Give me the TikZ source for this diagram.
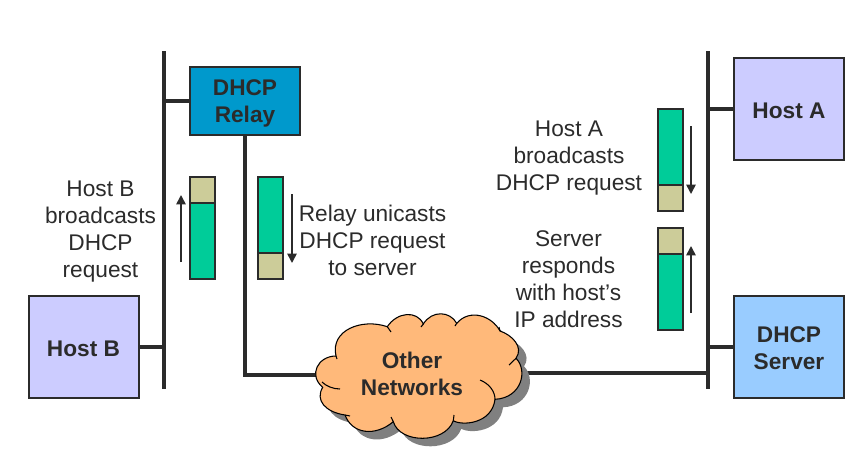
\documentclass[tikz,border=0pt]{standalone}
\usepackage{fontspec}
\setmainfont{Liberation Sans}
\usepackage{xcolor}
\usetikzlibrary{arrows.meta,backgrounds}
\definecolor{inkdark}{HTML}{2B2B2B}
\definecolor{hostfill}{HTML}{CCCCFF}
\definecolor{relayfill}{HTML}{0099CC}
\definecolor{serverfill}{HTML}{99CCFF}
\definecolor{bodyfill}{HTML}{00CC99}
\definecolor{headfill}{HTML}{CCCC99}
\definecolor{cloudfill}{HTML}{FFB97A}
\definecolor{shadowfill}{HTML}{808080}
\newcommand{\cloudoutline}{(336,356) .. controls (330,330) and (362,318) .. (387.3,326.7)
  .. controls (397,312) and (417,310) .. (423.3,324)
  .. controls (432,310) and (450,311) .. (456.7,323.3)
  .. controls (470,308) and (492,316) .. (500,331)
  .. controls (512,335) and (524,347) .. (516,358.3)
  .. controls (528,370) and (522,398) .. (495,399.3)
  .. controls (492,424) and (462,426) .. (453.3,420.7)
  .. controls (445,444) and (400,444) .. (393.3,421.7)
  .. controls (375,437) and (352,434) .. (345,415)
  .. controls (325,412) and (315,400) .. (322.7,387.3)
  .. controls (308,375) and (318,356) .. (336,356) -- cycle}
\tikzset{
  netline/.style={line width=3pt,inkdark},
  linkline/.style={line width=3pt,inkdark},
  cloudline/.style={line width=0.8pt,draw=black},
  boxnode/.style={draw=inkdark,line width=1.5pt,outer sep=0pt,inner sep=0pt,align=center,
    text=inkdark,font=\fontsize{17}{20.25}\selectfont\bfseries},
  hostbox/.style={boxnode,fill=hostfill,minimum width=82.5pt,minimum height=76.5pt},
  serverbox/.style={boxnode,fill=serverfill,minimum width=82.5pt,minimum height=76.5pt},
  relaybox/.style={boxnode,fill=relayfill,minimum width=82.5pt,minimum height=51pt},
  pkthead/.style={draw=inkdark,line width=1.5pt,outer sep=0pt,fill=headfill,minimum width=18.75pt,minimum height=19.5pt},
  pktbody/.style={draw=inkdark,line width=1.5pt,outer sep=0pt,fill=bodyfill,minimum width=18.75pt,minimum height=57pt},
  pktarrow/.style={line width=1.2pt,inkdark,-{Triangle[width=7pt,length=7pt]}},
  caption/.style={align=center,text=inkdark,inner sep=0pt,font=\fontsize{17}{20.25}\selectfont},
  cloudtext/.style={align=center,text=inkdark,inner sep=0pt,font=\fontsize{17}{20.25}\selectfont\bfseries}
}
\begin{document}
\begin{tikzpicture}[x=0.75pt,y=-0.75pt]
\useasboundingbox (0,0) rectangle (863,464);
% the two segments
\coordinate (busLtop) at (164,51);
\coordinate (busLbot) at (164,389);
\coordinate (busRtop) at (708,51);
\coordinate (busRbot) at (708,389);
\draw[netline] (busLtop) -- (busLbot);
\draw[netline] (busRtop) -- (busRbot);
% stations
\node[relaybox] (relay) at (245,101) {\rule{0pt}{15.4pt}DHCP\\Relay};
\node[hostbox] (hostB) at (83.5,347) {\rule{0pt}{14pt}Host B};
\node[hostbox] (hostA) at (789,109) {\rule{0pt}{14pt}Host A};
\node[serverbox] (server) at (789,347) {\rule{0pt}{14pt}DHCP\\Server};
\node[cloudtext] (cloud) at (412,374) {Other\\Networks};
% links, cloud goes over them
\begin{scope}[on background layer]
\draw[linkline] (relay.west) -- (relay.west -| busLtop);
\draw[linkline] (hostB.east) -- (hostB.east -| busLtop);
\draw[linkline] (hostA.west) -- (hostA.west -| busRtop);
\draw[linkline] (server.west) -- (server.west -| busRtop);
\draw[linkline] (relay.south) |- ([yshift=-0.75pt]cloud.center);
\draw[linkline] ([yshift=0.75pt]cloud.center) -- ([yshift=0.75pt]cloud.center -| busRtop);
\fill[shadowfill,shift={(8,8)}] \cloudoutline;
\draw[cloudline,fill=cloudfill] \cloudoutline;
\draw[cloudline] (322,382) .. controls (326,386) and (333,389) .. (340,389);
\draw[cloudline] (336,356) -- (337,359);
\draw[cloudline] (387.3,326.7) -- (391,332);
\draw[cloudline] (423.3,324) -- (421,327);
\draw[cloudline] (456.7,323.3) -- (455,326);
\draw[cloudline] (500,331) -- (499,327);
\draw[cloudline] (516,358.3) -- (509,365);
\draw[cloudline] (480,380) .. controls (490,384) and (495,392) .. (495,399.3);
\draw[cloudline] (453.3,420.7) -- (454,415);
\draw[cloudline] (393.3,421.7) -- (391,417);
\draw[cloudline] (345,415) -- (350,416);
\end{scope}
% packets
\node[pkthead,anchor=north] (headB) at (202.5,177) {};
\node[pktbody,anchor=north] (bodyB) at (headB.south) {};
\node[pktbody,anchor=north] (bodyRelay) at (270.5,177) {};
\node[pkthead,anchor=north] (headRelay) at (bodyRelay.south) {};
\node[pktbody,anchor=north] (bodyA) at (670.5,109) {};
\node[pkthead,anchor=north] (headA) at (bodyA.south) {};
\node[pkthead,anchor=north] (headServer) at (670,228) {};
\node[pktbody,anchor=north] (bodyServer) at (headServer.south) {};
% directions
\coordinate (arrBs) at (181,262);
\coordinate (arrBe) at (181,195);
\coordinate (arrRs) at (292,194);
\coordinate (arrRe) at (292,263);
\coordinate (arrAs) at (691,126);
\coordinate (arrAe) at (691,194);
\coordinate (arrSs) at (691,313);
\coordinate (arrSe) at (691,246);
\draw[pktarrow] (arrBs) -- (arrBe);
\draw[pktarrow] (arrRs) -- (arrRe);
\draw[pktarrow] (arrAs) -- (arrAe);
\draw[pktarrow] (arrSs) -- (arrSe);
% captions
\node[caption] (capB) at (100.5,232) {Host B\\broadcasts\\DHCP\\request};
\node[caption] (capRelay) at (372.5,240) {Relay unicasts\\DHCP request\\to server};
\node[caption] (capA) at (569,158) {Host A\\broadcasts\\DHCP request};
\node[caption] (capServer) at (568.5,279) {Server\\responds\\with host’s\\IP address};
\end{tikzpicture}
\end{document}
